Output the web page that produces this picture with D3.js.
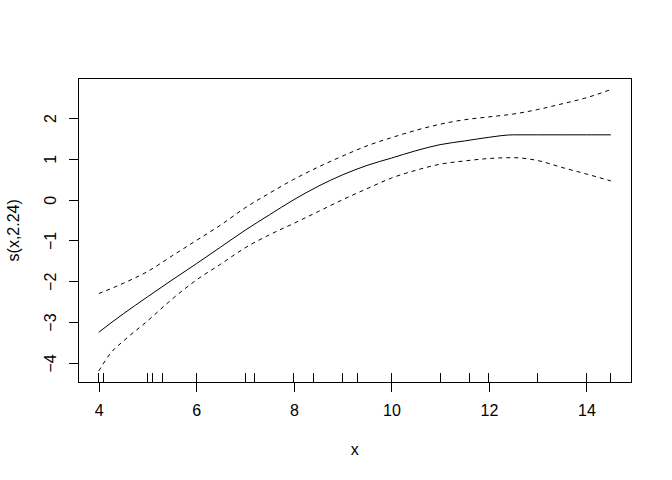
<!DOCTYPE html>
<html>
<head>
<meta charset="utf-8">
<script src="https://cdn.jsdelivr.net/npm/d3@7"></script>
<style>
  body { margin: 0; background: #fff; }
  text { font-family: "Liberation Sans", Arial, sans-serif; font-size: 16px; fill: #000; }
</style>
</head>
<body>
<script>
// smooth term estimate
var xs    = [4, 4.25, 4.5, 5, 5.5, 6, 6.5, 7, 7.5, 8, 8.5, 9, 9.5, 10, 10.5, 11, 11.5, 12, 12.5, 13, 13.5, 14, 14.5];
var fit   = [-3.25, -3.02, -2.80, -2.38, -1.97, -1.57, -1.16, -0.75, -0.37, 0.0, 0.33, 0.61, 0.84, 1.02, 1.20, 1.35, 1.44, 1.53, 1.59, 1.59, 1.59, 1.59, 1.59];
var upper = [-2.30, -2.18, -2.05, -1.76, -1.38, -1.00, -0.62, -0.20, 0.16, 0.50, 0.80, 1.07, 1.32, 1.52, 1.70, 1.85, 1.96, 2.03, 2.10, 2.21, 2.35, 2.50, 2.70];
var lower = [-4.20, -3.75, -3.47, -2.97, -2.44, -1.97, -1.58, -1.18, -0.86, -0.58, -0.29, 0.00, 0.27, 0.53, 0.72, 0.87, 0.95, 1.01, 1.03, 0.96, 0.79, 0.63, 0.46];

// rug of observed x values
var rugX = [4, 4.1, 5, 5.1, 5.3, 6, 7, 7.2, 8, 8.4, 9, 9.3, 10, 11, 11.6, 12, 13, 14, 14.5];

var xTicks = [4, 6, 8, 10, 12, 14];
var yTicks = [-4, -3, -2, -1, 0, 1, 2];

var width = 672, height = 480;
// plot region edges (window.top is read-only, so use other names)
var pLeft = 78.3, pRight = 631.3, pTop = 78.3, pBottom = 382.3;

var svg = d3.select("body").append("svg")
    .attr("width", width)
    .attr("height", height);

// R style 4% padding on the data range
var xr = d3.extent(xs), xp = (xr[1] - xr[0]) * 0.04;
var yr = [d3.min(lower), d3.max(upper)], yp = (yr[1] - yr[0]) * 0.04;

var x = d3.scaleLinear().domain([xr[0] - xp, xr[1] + xp]).range([pLeft, pRight]);
var y = d3.scaleLinear().domain([yr[0] - yp, yr[1] + yp]).range([pBottom, pTop]);

// bottom axis
var xAxis = svg.append("g")
    .attr("transform", "translate(0," + pBottom + ")")
    .call(d3.axisBottom(x).tickValues(xTicks).tickSize(9.5).tickPadding(13).tickFormat(d3.format("d")));
xAxis.select(".domain").remove();
xAxis.selectAll("line").attr("stroke", "#000").attr("shape-rendering", "crispEdges");
xAxis.selectAll("text")
    .attr("font-family", "Liberation Sans, Arial, sans-serif")
    .attr("font-size", 16)
    .attr("fill", "#000");

// left axis, labels turned like R
var yAxis = svg.append("g")
    .attr("transform", "translate(" + pLeft + ",0)")
    .call(d3.axisLeft(y).tickValues(yTicks).tickSize(9.5).tickFormat(d3.format("d")));
yAxis.select(".domain").remove();
yAxis.selectAll("line").attr("stroke", "#000").attr("shape-rendering", "crispEdges");
yAxis.selectAll("text")
    .attr("x", null).attr("dy", null)
    .attr("text-anchor", "middle")
    .attr("transform", "translate(-22.5,0) rotate(-90)")
    .attr("font-family", "Liberation Sans, Arial, sans-serif")
    .attr("font-size", 16)
    .attr("fill", "#000");

// box
svg.append("rect")
    .attr("x", pLeft).attr("y", pTop)
    .attr("width", pRight - pLeft).attr("height", pBottom - pTop)
    .attr("fill", "none").attr("stroke", "#000")
    .attr("shape-rendering", "crispEdges");

// rug
svg.append("g").selectAll("line")
    .data(rugX)
    .enter().append("line")
    .attr("x1", function(d) { return x(d); })
    .attr("x2", function(d) { return x(d); })
    .attr("y1", pBottom)
    .attr("y2", pBottom - (pBottom - pTop) * 0.03)
    .attr("stroke", "#000")
    .attr("shape-rendering", "crispEdges");

var line = d3.line()
    .x(function(d) { return x(d[0]); })
    .y(function(d) { return y(d[1]); })
    .curve(d3.curveMonotoneX);

function pairs(v) { return xs.map(function(d, i) { return [d, v[i]]; }); }

svg.append("path").datum(pairs(fit))
    .attr("d", line).attr("fill", "none").attr("stroke", "#000").attr("stroke-width", 1);
svg.append("path").datum(pairs(upper))
    .attr("d", line).attr("fill", "none").attr("stroke", "#000").attr("stroke-width", 1)
    .attr("stroke-dasharray", "4,4");
svg.append("path").datum(pairs(lower))
    .attr("d", line).attr("fill", "none").attr("stroke", "#000").attr("stroke-width", 1)
    .attr("stroke-dasharray", "4,4");

// axis titles
svg.append("text")
    .attr("x", (pLeft + pRight) / 2)
    .attr("y", 455)
    .attr("text-anchor", "middle")
    .text("x");

svg.append("text")
    .attr("transform", "translate(19," + (pTop + pBottom) / 2 + ") rotate(-90)")
    .attr("text-anchor", "middle")
    .text("s(x,2.24)");
</script>
</body>
</html>
